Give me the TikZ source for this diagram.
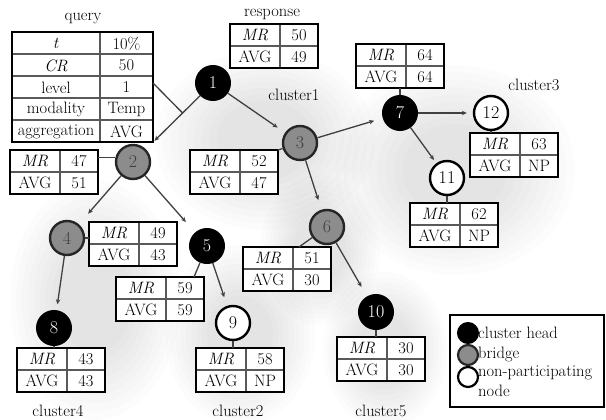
\documentclass[tikz,border=0pt]{standalone}
\usetikzlibrary{calc,arrows.meta}

\tikzset{
  every node/.style={font=\rmfamily\fontsize{16.5}{19.5}\selectfont},
  tabbox/.style={fill=white, minimum width=88pt, minimum height=44pt, inner sep=0pt, outer sep=0pt},
  qbox/.style={fill=white, minimum width=141pt, minimum height=110pt, inner sep=0pt, outer sep=0pt},
  outerline/.style={draw=black, line width=2.6pt},
  innerline/.style={draw=black!65, line width=1.3pt},
  celltxt/.style={inner sep=0pt},
  headnode/.style={circle, fill=black, draw=black, line width=2pt, minimum size=34pt, inner sep=0pt, text=white, font=\rmfamily\fontsize{18}{18}\selectfont},
  bridgenode/.style={circle, fill=black!45, draw=black!85, line width=2.4pt, minimum size=34pt, inner sep=0pt, text=black!75, font=\rmfamily\fontsize{18}{18}\selectfont},
  npnode/.style={circle, fill=white, draw=black, line width=2.4pt, minimum size=34pt, inner sep=0pt, text=black, font=\rmfamily\fontsize{18}{18}\selectfont},
  arr/.style={draw=black!75, line width=1.3pt, -{Stealth[length=5pt,width=4.5pt]}},
  link/.style={draw=black!75, line width=1.3pt},
  blob/.style={fill=black, opacity=0.011, draw=none},
  lhead/.style={circle, fill=black, draw=black, line width=2pt, minimum size=20pt, inner sep=0pt},
  lbridge/.style={circle, fill=black!45, draw=black!85, line width=2.2pt, minimum size=20pt, inner sep=0pt},
  lnp/.style={circle, fill=white, draw=black, line width=2.2pt, minimum size=20pt, inner sep=0pt},
}

\newcommand{\mrtab}[5]{%
  \node[tabbox, anchor=north west] (#1) at (#2,#3) {};
  \draw[innerline] ($(#1.north west)+(50,0)$) -- ($(#1.south west)+(50,0)$);
  \draw[innerline] (#1.west) -- (#1.east);
  \draw[outerline] (#1.north west) rectangle (#1.south east);
  \node[celltxt] at ($(#1.north west)+(25,11.5)$) {\textit{MR}};
  \node[celltxt] at ($(#1.north west)+(69,11.5)$) {#4};
  \node[celltxt] at ($(#1.north west)+(25,33)$) {AVG};
  \node[celltxt] at ($(#1.north west)+(69,33)$) {#5};
}

\newcommand{\softblob}[4]{%
  \foreach \s in {1,0.93,0.86,0.79,0.72,0.65,0.58,0.51,0.44} {
    \fill[blob] (#1,#2) ellipse ({#3*\s} and {#4*\s});
  }
}

\begin{document}
\begin{tikzpicture}[x=1pt,y=-1pt]
\useasboundingbox (0,0) rectangle (606,420);
\fill[white] (0,0) rectangle (606,420);

% background cluster shading
\softblob{95}{300}{85}{120}
\softblob{240}{335}{75}{90}
\softblob{385}{350}{62}{78}
\softblob{455}{170}{120}{105}
\softblob{265}{140}{110}{90}
\softblob{320}{250}{60}{75}

% labels
\node (qlabel) at (83,19) {query};
\node (rlabel) at (272,14) {response};
\node (c1label) at (294,95) {cluster1};
\node (c3label) at (534,85) {cluster3};
\node (c4label) at (58,411) {cluster4};
\node (c2label) at (238,411) {cluster2};
\node (c5label) at (381,411) {cluster5};

% query table
\node[qbox, anchor=north west] (query) at (12,32) {};
\foreach \r in {1,2,3,4} {
  \draw[innerline] ($(query.north west)+(0,22*\r)$) -- ($(query.north east)+(0,22*\r)$);
}
\draw[innerline] ($(query.north west)+(88,0)$) -- ($(query.south west)+(88,0)$);
\draw[outerline] (query.north west) rectangle (query.south east);
\node[celltxt] (qa1) at ($(query.north west)+(44,11.5)$) {\textit{t}};
\node[celltxt] (qb1) at ($(query.north west)+(114.5,11.5)$) {10\%};
\node[celltxt] (qa2) at ($(query.north west)+(44,33.5)$) {\textit{CR}};
\node[celltxt] (qb2) at ($(query.north west)+(114.5,33.5)$) {50};
\node[celltxt] (qa3) at ($(query.north west)+(44,55.5)$) {level};
\node[celltxt] (qb3) at ($(query.north west)+(114.5,55.5)$) {1};
\node[celltxt] (qa4) at ($(query.north west)+(44,77.5)$) {modality};
\node[celltxt] (qb4) at ($(query.north west)+(114.5,77.5)$) {Temp};
\node[celltxt] (qa5) at ($(query.north west)+(44,99.5)$) {aggregation};
\node[celltxt] (qb5) at ($(query.north west)+(114.5,99.5)$) {AVG};

% value tables
\mrtab{tr}{230}{24}{50}{49}
\mrtab{t2}{10}{150}{47}{51}
\mrtab{t3}{190}{150}{52}{47}
\mrtab{t4}{89}{222}{49}{43}
\mrtab{t5}{116}{277}{59}{59}
\mrtab{t6}{243}{247}{51}{30}
\mrtab{t7}{356}{44}{64}{64}
\mrtab{t8}{17}{348}{43}{43}
\mrtab{t9}{196}{348}{58}{NP}
\mrtab{t10}{337}{337}{30}{30}
\mrtab{t11}{410}{203}{62}{NP}
\mrtab{t12}{470}{133}{63}{NP}

% graph nodes
\node[headnode] (n1) at (213,83) {1};
\node[bridgenode] (n2) at (133,162) {2};
\node[bridgenode] (n3) at (300,143) {3};
\node[bridgenode] (n4) at (67,238) {4};
\node[headnode] (n5) at (207,246) {5};
\node[bridgenode] (n6) at (327,227) {6};
\node[headnode] (n7) at (400,113) {7};
\node[headnode] (n8) at (54,328) {8};
\node[npnode] (n9) at (233,323) {9};
\node[headnode] (n10) at (376,312) {10};
\node[npnode] (n11) at (447,178) {11};
\node[npnode] (n12) at (491,113) {12};

% arrows
\draw[arr, shorten >=12pt] (n1) -- (n2);
\draw[arr, shorten >=9pt] (n1) -- (n3);
\draw[arr, shorten >=14pt] (n2) -- (n4);
\draw[arr, shorten >=14pt] (n2) -- (n5);
\draw[arr, shorten >=10pt] (n3) -- (n6);
\draw[arr, shorten >=9pt] (n3) -- (n7);
\draw[arr, shorten >=6pt] (n4) -- (n8);
\draw[arr, shorten >=9pt] (n5) -- (n9);
\draw[arr, shorten >=11pt] (n6) -- (n10);
\draw[arr, shorten >=4pt] (n7) -- (n11);
\draw[arr, shorten >=6pt] (n7) -- (n12);

% query callout
\coordinate (qfrom) at ($(query.north east)+(0,51)$);
\coordinate (qjoin) at ($(n1)!0.38!(n2)$);
\draw[link] (qfrom) -- (qjoin);

% node-to-table links
\draw[link] (n2.165) -- (t2.east |- n2.165);
\draw[link] (n3) -- (t3.north east);
\draw[link] (n4.east) -- (t4.west |- n4.east);
\draw[link] (n5) -- ([xshift=-10pt]t5.north east);
\draw[link] (n6) -- ([xshift=-32pt]t6.north east);
\draw[link] (n7) -- (n7 |- t7.south);
\draw[link] (n8) -- (n8 |- t8.north);
\draw[link] (n9) -- (n9 |- t9.north);
\draw[link] (n10) -- (n10 |- t10.north);
\draw[link] (n11) -- (n11 |- t11.north);
\draw[link] (n12) -- (n12 |- t12.north);

% legend
\node[fill=white, draw=black, line width=2.6pt, minimum width=154pt, minimum height=92pt, inner sep=0pt, outer sep=0pt, anchor=north west] (legend) at (450,315) {};
\node[lhead] (lg1) at (468,333) {};
\node[lbridge] (lg2) at (468,355) {};
\node[lnp] (lg3) at (468,377) {};
\node[anchor=west, inner sep=0pt] (lt1) at (478,333) {cluster head};
\node[anchor=west, inner sep=0pt] (lt2) at (478,354) {bridge};
\node[anchor=north west, inner sep=0pt, align=left] (lt3) at (478,366) {non-participating\\node};

\end{tikzpicture}
\end{document}
